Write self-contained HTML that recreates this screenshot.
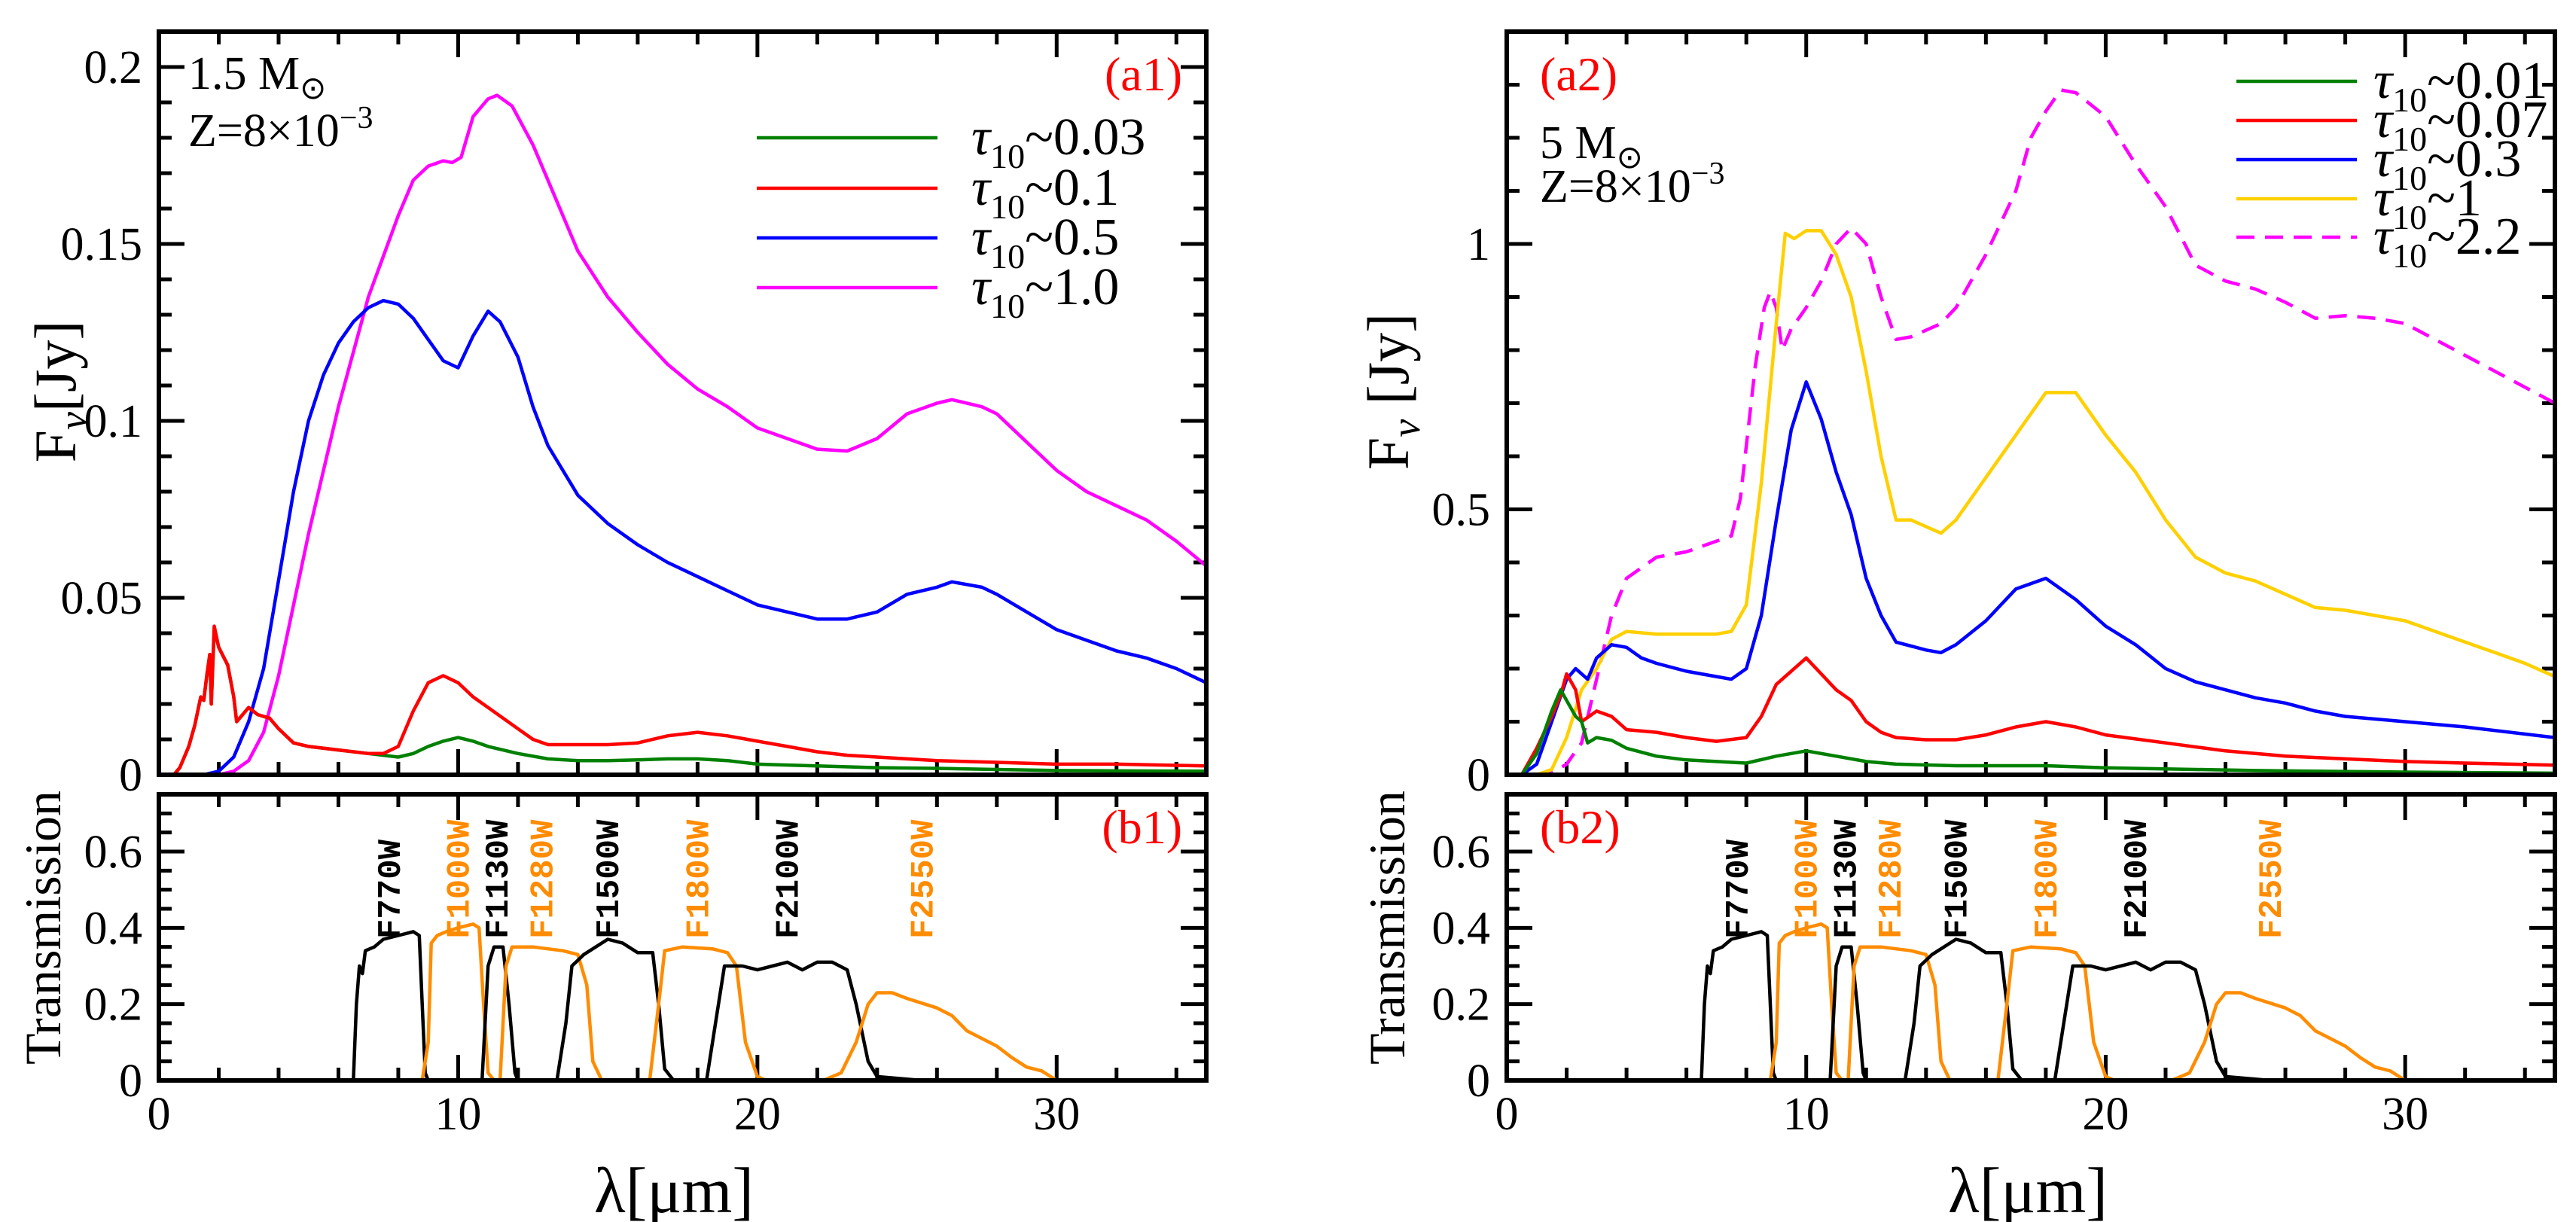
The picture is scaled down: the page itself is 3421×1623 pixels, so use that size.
<!DOCTYPE html>
<html><head><meta charset="utf-8"><style>
html,body{margin:0;padding:0;background:#fff}
svg{display:block}
text{font-family:"Liberation Serif",serif;fill:#000}
.mono{font-family:"Liberation Mono",monospace;font-weight:bold}
</style></head><body>
<svg id="fig" width="3421" height="1623" viewBox="0 0 3421 1623" xmlns="http://www.w3.org/2000/svg"></svg>
<script>
// ---------- data ----------
const xTicksMajor = [0, 10, 20, 30];
const a1YTicks = [0, 0.05, 0.1, 0.15, 0.2];
const a1YTickLabels = ["0", "0.05", "0.1", "0.15", "0.2"];
const a2YTicks = [0, 0.5, 1];
const a2YTickLabels = ["0", "0.5", "1"];
const bYTicks = [0, 0.2, 0.4, 0.6];
const bYTickLabels = ["0", "0.2", "0.4", "0.6"];

const a1Values = ["0.03", "0.1", "0.5", "1.0"];
const a2Values = ["0.01", "0.07", "0.3", "1", "2.2"];

const a1Green = [[0.5,0],[0.7,0.002],[1,0.008],[1.2,0.014],[1.4,0.022],[1.5,0.021],[1.6,0.028],[1.7,0.034],[1.75,0.02],[1.85,0.041],[2,0.036],[2.3,0.031],[2.5,0.022],[2.6,0.015],[2.8,0.017],[3,0.019],[3.3,0.017],[3.7,0.016],[4,0.013],[4.5,0.009],[5,0.008],[6,0.007],[7,0.006],[8,0.005],[8.5,0.006],[9,0.008],[9.5,0.0095],[10,0.0105],[10.5,0.0095],[11,0.008],[12,0.006],[13,0.0045],[14,0.004],[15,0.004],[16,0.0042],[17,0.0045],[18,0.0045],[19,0.004],[20,0.003],[22,0.0025],[24,0.002],[26,0.0018],[28,0.0015],[30,0.0012],[35,0.001]];
const a1Red = [[0.5,0],[0.7,0.002],[1,0.008],[1.2,0.014],[1.4,0.022],[1.5,0.021],[1.6,0.028],[1.7,0.034],[1.75,0.02],[1.85,0.042],[2,0.036],[2.3,0.031],[2.5,0.022],[2.6,0.015],[2.8,0.017],[3,0.019],[3.3,0.017],[3.7,0.016],[4,0.013],[4.5,0.009],[5,0.008],[6,0.007],[7,0.006],[7.5,0.006],[8,0.008],[8.5,0.018],[9,0.026],[9.5,0.028],[10,0.026],[10.5,0.022],[11,0.019],[12,0.013],[12.5,0.01],[13,0.0085],[14,0.0085],[15,0.0085],[16,0.009],[17,0.011],[18,0.012],[19,0.011],[20,0.0095],[21,0.008],[22,0.0065],[23,0.0055],[24,0.005],[25,0.0045],[26,0.004],[28,0.0035],[30,0.003],[32,0.003],[35,0.0025]];
const a1Blue = [[0,0],[1.5,0],[2,0.001],[2.5,0.005],[3,0.015],[3.5,0.03],[4,0.055],[4.5,0.08],[5,0.1],[5.5,0.113],[6,0.122],[6.5,0.128],[7,0.132],[7.5,0.134],[8,0.133],[8.5,0.129],[9,0.123],[9.5,0.117],[10,0.115],[10.5,0.124],[11,0.131],[11.4,0.128],[12,0.118],[12.5,0.104],[13,0.093],[14,0.079],[15,0.071],[16,0.065],[17,0.06],[18,0.056],[19,0.052],[20,0.048],[21,0.046],[22,0.044],[23,0.044],[24,0.046],[25,0.051],[26,0.053],[26.5,0.0545],[27.5,0.053],[28,0.051],[29,0.046],[30,0.041],[31,0.038],[32,0.035],[33,0.033],[34,0.03],[35,0.026]];
const a1Magenta = [[0,0],[2,0],[2.5,0.001],[3,0.004],[3.5,0.012],[4,0.028],[5,0.068],[6,0.104],[7,0.135],[8,0.158],[8.5,0.168],[9,0.172],[9.5,0.1735],[9.8,0.173],[10.1,0.1745],[10.5,0.186],[11,0.191],[11.3,0.192],[11.8,0.189],[12.5,0.178],[13,0.168],[14,0.148],[15,0.135],[16,0.125],[17,0.116],[18,0.109],[19,0.104],[20,0.098],[21,0.095],[22,0.092],[23,0.0915],[24,0.095],[25,0.102],[26,0.105],[26.5,0.106],[27.5,0.104],[28,0.102],[29,0.094],[30,0.086],[31,0.08],[32,0.076],[33,0.072],[34,0.066],[35,0.059]];

const a2Green = [[0.5,0],[1,0.04],[1.5,0.12],[1.8,0.16],[2,0.14],[2.3,0.11],[2.5,0.1],[2.7,0.06],[3,0.07],[3.5,0.065],[4,0.05],[5,0.035],[6,0.028],[7,0.025],[8,0.022],[9,0.035],[10,0.045],[11,0.035],[12,0.025],[13,0.02],[15,0.017],[18,0.017],[20,0.013],[25,0.008],[30,0.005],[35,0.003]];
const a2Red = [[0.5,0],[1,0.05],[1.5,0.11],[1.8,0.15],[2,0.19],[2.3,0.16],[2.5,0.1],[3,0.12],[3.5,0.11],[4,0.085],[5,0.08],[6,0.07],[7,0.063],[8,0.07],[8.5,0.11],[9,0.17],[10,0.22],[10.5,0.19],[11,0.16],[11.5,0.14],[12,0.1],[12.5,0.08],[13,0.07],[14,0.066],[15,0.066],[16,0.075],[17,0.09],[18,0.1],[19,0.09],[20,0.075],[22,0.06],[24,0.045],[26,0.035],[28,0.03],[30,0.025],[32,0.022],[35,0.018]];
const a2Blue = [[0.5,0],[1,0.02],[1.5,0.1],[2,0.18],[2.3,0.2],[2.7,0.18],[3,0.22],[3.5,0.245],[4,0.24],[4.5,0.22],[5,0.21],[6,0.195],[7,0.185],[7.5,0.18],[8,0.2],[8.5,0.3],[9,0.48],[9.5,0.65],[10,0.74],[10.5,0.67],[11,0.57],[11.5,0.49],[12,0.37],[12.5,0.3],[13,0.25],[14,0.235],[14.5,0.23],[15,0.245],[16,0.29],[17,0.35],[18,0.37],[19,0.33],[20,0.28],[21,0.245],[22,0.2],[23,0.175],[24,0.16],[25,0.145],[26,0.135],[27,0.12],[28,0.11],[29,0.105],[30,0.1],[32,0.09],[35,0.07]];
const a2Yellow = [[0,0],[1,0],[1.5,0.01],[2,0.07],[2.5,0.16],[3,0.2],[3.5,0.255],[4,0.27],[5,0.265],[6,0.265],[7,0.265],[7.5,0.27],[8,0.32],[8.5,0.55],[9,0.85],[9.3,1.02],[9.6,1.01],[10,1.025],[10.5,1.025],[11,0.98],[11.5,0.9],[12,0.76],[12.5,0.6],[13,0.48],[13.5,0.48],[14.5,0.455],[15,0.48],[16,0.56],[17,0.64],[18,0.72],[19,0.72],[20,0.64],[21,0.57],[22,0.48],[23,0.41],[24,0.38],[25,0.365],[26,0.34],[27,0.315],[28,0.31],[29,0.3],[30,0.29],[31,0.27],[32,0.25],[33,0.23],[34,0.21],[35,0.185]];
const a2Magenta = [[0,0],[0.8,0],[1.5,0.003],[2,0.02],[2.5,0.06],[3,0.18],[3.5,0.3],[4,0.37],[4.5,0.39],[5,0.41],[6,0.42],[7,0.44],[7.5,0.45],[7.8,0.52],[8,0.62],[8.3,0.77],[8.6,0.88],[8.8,0.91],[9,0.88],[9.2,0.8],[9.5,0.84],[10,0.88],[10.5,0.93],[11,1.0],[11.5,1.03],[12,1.0],[12.5,0.9],[13,0.82],[13.5,0.825],[14.5,0.85],[15,0.88],[16,0.98],[17,1.1],[17.5,1.2],[18,1.25],[18.5,1.29],[19,1.285],[20,1.24],[21,1.15],[22,1.07],[23,0.96],[24,0.93],[25,0.915],[26,0.89],[27,0.86],[28,0.865],[29,0.86],[30,0.85],[31,0.82],[32,0.79],[33,0.76],[34,0.73],[35,0.7]];

const filterNames = ["F770W","F1000W","F1130W","F1280W","F1500W","F1800W","F2100W","F2550W"];
const filterCenters = [7.7, 10, 11.3, 12.8, 15, 18, 21, 25.5];
const fF770W = [[6.5,0],[6.6,0.2],[6.7,0.3],[6.8,0.28],[6.9,0.34],[7.2,0.35],[7.5,0.37],[8,0.38],[8.5,0.39],[8.7,0.38],[8.8,0.2],[8.9,0.02],[9,0]];
const fF1000W = [[8.8,0],[9,0.1],[9.1,0.36],[9.3,0.38],[9.6,0.39],[10,0.4],[10.5,0.41],[10.7,0.4],[10.85,0.2],[11,0.02],[11.2,0]];
const fF1130W = [[10.8,0],[11,0.3],[11.2,0.35],[11.5,0.35],[11.7,0.2],[11.9,0.02],[12,0]];
const fF1280W = [[11.4,0],[11.6,0.3],[11.8,0.35],[12.5,0.35],[13,0.345],[13.5,0.34],[14,0.33],[14.3,0.25],[14.5,0.05],[14.8,0]];
const fF1500W = [[13.3,0],[13.6,0.15],[13.8,0.3],[14.2,0.33],[15,0.37],[15.5,0.36],[16,0.335],[16.5,0.335],[16.7,0.2],[16.9,0.03],[17.2,0]];
const fF1800W = [[16.4,0],[16.7,0.2],[16.9,0.34],[17.5,0.35],[18.5,0.345],[19,0.335],[19.3,0.3],[19.6,0.1],[20,0.01],[20.3,0]];
const fF2100W = [[18.3,0],[18.6,0.15],[18.9,0.3],[19.5,0.3],[20,0.29],[21,0.31],[21.5,0.29],[22,0.31],[22.5,0.31],[23,0.29],[23.3,0.2],[23.7,0.05],[24,0.01],[25.5,0]];
const fF2550W = [[22.2,0],[22.8,0.02],[23.3,0.1],[23.7,0.2],[24,0.23],[24.5,0.23],[25,0.215],[26,0.19],[26.5,0.17],[27,0.13],[28,0.09],[28.5,0.06],[29,0.035],[29.5,0.025],[30,0]];

// ---------- drawing ----------
const NS = "http://www.w3.org/2000/svg";
const svg = document.getElementById("fig");
const ORANGE = "#ff8c00", GREEN = "#008000", RED = "#ff0000", BLUE = "#0000ff", MAG = "#ff00ff", YEL = "#ffd000";
function mk(tag, attrs, parent) {
  const e = document.createElementNS(NS, tag);
  for (const k in attrs) e.setAttribute(k, attrs[k]);
  (parent || svg).appendChild(e);
  return e;
}
function scale(d0, d1, r0, r1) { return v => r0 + (v - d0) / (d1 - d0) * (r1 - r0); }

function panel(name, x0, x1, y0, y1, ymax, minorY, yt, ytl) {
  const g = mk("g", {});
  
  
  const sx = scale(0, 35, x0, x1), sy = scale(0, ymax, y1, y0);
  const tk = mk("g", {stroke: "#000", "stroke-width": 5}, g);
  
  
  for (let v = 0; v <= 35; v += 2) {
    const L = (v % 10 === 0) ? 34 : 17;
    mk("line", {x1: sx(v), x2: sx(v), y1: y1, y2: y1 - L}, tk);
    mk("line", {x1: sx(v), x2: sx(v), y1: y0, y2: y0 + L}, tk);
  }
  const nMinor = Math.round(ymax / minorY);
  const majorEvery = Math.round(yt[1] / minorY);
  for (let i = 0; i <= nMinor; i++) {
    const v = i * minorY;
    const L = (i % majorEvery === 0) ? 34 : 17;
    mk("line", {x1: x0, x2: x0 + L, y1: sy(v), y2: sy(v)}, tk);
    mk("line", {x1: x1, x2: x1 - L, y1: sy(v), y2: sy(v)}, tk);
  }
  yt.forEach((v, i) => {
    const t = mk("text", {x: x0 - 22, y: sy(v) + 21, "text-anchor": "end", "font-size": 62}, g);
    
    
    t.textContent = ytl[i];
  });
  return {g, sx, sy, x0, x1, y0, y1};
}
function frame(p, name) {
  const r = mk("rect", {x: p.x0, y: p.y0, width: p.x1 - p.x0, height: p.y1 - p.y0, fill: "none", stroke: "#000", "stroke-width": 6}, p.g);
  
  
}
function curve(p, data, color, name, dash) {
  const d = data.map((pt, i) => (i ? "L" : "M") + p.sx(pt[0]).toFixed(1) + "," + p.sy(pt[1]).toFixed(1)).join("");
  const a = {d: d, fill: "none", stroke: color, "stroke-width": 4.5, "stroke-linejoin": "round"};
  if (dash) a["stroke-dasharray"] = dash;
  const e = mk("path", a, p.g);
  
  
}
function tauText(parent, x, y, val, name) {
  const t = mk("text", {x: x, y: y, "font-size": 70}, parent);
  
  
  const a = mk("tspan", {"font-style": "italic"}, t); a.textContent = "τ";
  const b = mk("tspan", {"font-size": 46, dy: 18}, t); b.textContent = "10";
  const c = mk("tspan", {dy: -18}, t); c.textContent = "~" + val;
}
function legend(p, xs, xe, xt, ys, colors, vals, prefix, dashes) {
  vals.forEach((v, i) => {
    const l = mk("line", {x1: xs, x2: xe, y1: ys[i], y2: ys[i], stroke: colors[i], "stroke-width": 4.5}, p.g);
    if (dashes && dashes[i]) l.setAttribute("stroke-dasharray", dashes[i]);
    
    
    tauText(p.g, xt, ys[i] + 22, v, prefix + '-legend-label-' + i);
  });
}
function txt(parent, x, y, s, size, name, extra) {
  const t = mk("text", Object.assign({x: x, y: y, "font-size": size}, extra || {}), parent);
  
  
  t.textContent = s;
  return t;
}
function massText(parent, x, y, m, name) {
  const t = mk("text", {x: x, y: y, "font-size": 62}, parent);
  
  
  const a = mk("tspan", {}, t); a.textContent = m + "  M";
  const b = mk("tspan", {"font-size": 42, dy: 13}, t); b.textContent = "⊙";
}
function zText(parent, x, y, name) {
  const t = mk("text", {x: x, y: y, "font-size": 62}, parent);
  
  
  const a = mk("tspan", {}, t); a.textContent = "Z=8×10";
  const b = mk("tspan", {"font-size": 42, dy: -24}, t); b.textContent = "−3";
}
function fnuTitle(x, y, name, gap) {
  const t = mk("text", {x: 0, y: 0, "font-size": 78, transform: `translate(${x},${y}) rotate(-90)`, "text-anchor": "middle"});
  
  
  const a = mk("tspan", {}, t); a.textContent = "F";
  const b = mk("tspan", {"font-size": 54, dy: 15, "font-style": "italic"}, t); b.textContent = "ν";
  const c = mk("tspan", {dy: -15}, t); c.textContent = gap + "[Jy]";
}
function filters(p, prefix) {
  const sets = [fF770W, fF1000W, fF1130W, fF1280W, fF1500W, fF1800W, fF2100W, fF2550W];
  sets.forEach((s, i) => curve(p, s, i % 2 ? ORANGE : "#000", prefix + '-filter-' + filterNames[i]));
  filterNames.forEach((n, i) => {
    const x = p.sx(filterCenters[i]) + 14;
    const t = mk("text", {x: 0, y: 0, "font-size": 44, class: "mono", transform: `translate(${x},1247) rotate(-90)`}, p.g);
    t.style.fill = i % 2 ? ORANGE : "#000";
    
    
    t.textContent = n;
  });
}
function xLabels(p, prefix) {
  xTicksMajor.forEach(v => {
    txt(p.g, p.sx(v), 1500, String(v), 62, prefix + '-x-tick-label', {"text-anchor": "middle"});
  });
}

// ---- left: a1 ----
const L0 = 211, L1 = 1602, R0 = 2001, R1 = 3393, TT = 42, TB = 1029, BT = 1055, BB = 1435;
const a1 = panel("panel-a1", L0, L1, TT, TB, 0.21, 0.01, a1YTicks, a1YTickLabels);
curve(a1, a1Magenta, MAG, "a1-series-tau-1.0");
curve(a1, a1Blue, BLUE, "a1-series-tau-0.5");
curve(a1, a1Green, GREEN, "a1-series-tau-0.03");
curve(a1, a1Red, RED, "a1-series-tau-0.1");
frame(a1, "a1");
legend(a1, 1005, 1245, 1290, [183, 250, 316, 382], [GREEN, RED, BLUE, MAG], a1Values, "a1");
massText(a1.g, 250, 118, "1.5", "a1-mass-label");
zText(a1.g, 250, 194, "a1-metallicity-label");
txt(a1.g, 1570, 120, "(a1)", 64, "a1-panel-label", {"text-anchor": "end"}).style.fill = RED;
fnuTitle(100, 520, "a1-y-axis-title", "");

const b1 = panel("panel-b1", L0, L1, BT, BB, 0.75, 0.05, bYTicks, bYTickLabels);
filters(b1, "b1");
frame(b1, "b1");
txt(b1.g, 1570, 1120, "(b1)", 64, "b1-panel-label", {"text-anchor": "end"}).style.fill = RED;
const tr1 = mk("text", {x: 0, y: 0, "font-size": 68, "text-anchor": "middle", transform: "translate(80,1232) rotate(-90)"});


tr1.textContent = "Transmission";
xLabels(b1, "b1");
const xt1 = mk("text", {x: 895, y: 1610, "font-size": 86, "text-anchor": "middle"});


xt1.textContent = "λ[μm]";

// ---- right: a2 ----
const a2 = panel("panel-a2", R0, R1, TT, TB, 1.4, 0.1, a2YTicks, a2YTickLabels);
curve(a2, a2Magenta, MAG, "a2-series-tau-2.2", "24,14");
curve(a2, a2Yellow, YEL, "a2-series-tau-1");
curve(a2, a2Blue, BLUE, "a2-series-tau-0.3");
curve(a2, a2Red, RED, "a2-series-tau-0.07");
curve(a2, a2Green, GREEN, "a2-series-tau-0.01");
frame(a2, "a2");
legend(a2, 2970, 3130, 3152, [108, 160, 212, 264, 315], [GREEN, RED, BLUE, YEL, MAG], a2Values, "a2", [null, null, null, null, "24,14"]);
massText(a2.g, 2045, 210, "5", "a2-mass-label");
zText(a2.g, 2045, 268, "a2-metallicity-label");
txt(a2.g, 2045, 120, "(a2)", 64, "a2-panel-label").style.fill = RED;
fnuTitle(1870, 520, "a2-y-axis-title", " ");

const b2 = panel("panel-b2", R0, R1, BT, BB, 0.75, 0.05, bYTicks, bYTickLabels);
filters(b2, "b2");
frame(b2, "b2");
txt(b2.g, 2045, 1120, "(b2)", 64, "b2-panel-label").style.fill = RED;
const tr2 = mk("text", {x: 0, y: 0, "font-size": 68, "text-anchor": "middle", transform: "translate(1865,1232) rotate(-90)"});


tr2.textContent = "Transmission";
xLabels(b2, "b2");
const xt2 = mk("text", {x: 2693, y: 1610, "font-size": 86, "text-anchor": "middle"});


xt2.textContent = "λ[μm]";
</script>
</body></html>
